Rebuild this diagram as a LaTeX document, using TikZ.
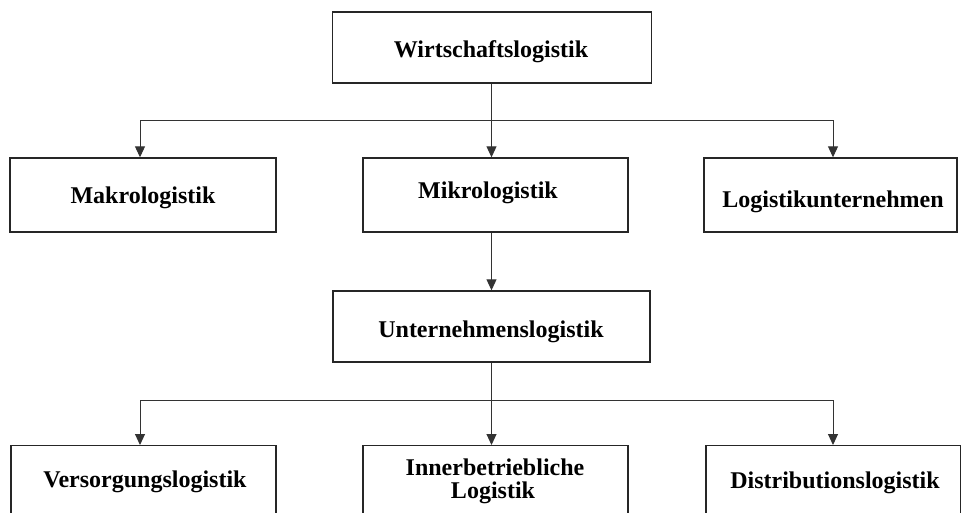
\documentclass[tikz,border=0pt]{standalone}
\usepackage{fontspec}
\setmainfont{Liberation Serif}
\usetikzlibrary{arrows.meta}
\begin{document}
\begin{tikzpicture}[x=1pt,y=-1pt,
  box/.style={draw=black!85,line width=1.4pt,fill=white,inner sep=0pt},
  lbl/.style={font=\bfseries\fontsize{24}{23}\selectfont,inner sep=0pt,anchor=base,align=center},
  conn/.style={draw=black!80,line width=1pt},
  arr/.style={conn,-{Triangle[length=11pt,width=10pt]}}]
\useasboundingbox (0,0) rectangle (961,512);
\clip (0,0) rectangle (961,512);
\fill[white] (0,0) rectangle (961,512);
% level 0
\node[box,minimum width=319pt,minimum height=71pt] (w) at (492,47.5) {};
\node[lbl] (wt) at (491,57) {Wirtschaftslogistik};
% level 1
\node[box,minimum width=266pt,minimum height=74pt] (ma) at (143,195) {};
\node[box,minimum width=265pt,minimum height=74pt] (mi) at (495.5,195) {};
\node[box,minimum width=253pt,minimum height=74pt] (lu) at (830.5,195) {};
\node[lbl] (mat) at (143,203) {Makrologistik};
\node[lbl] (mit) at (488,198) {Mikrologistik};
\node[lbl] (lut) at (833,207) {Logistikunternehmen};
% level 2
\node[box,minimum width=317pt,minimum height=71pt] (u) at (491.5,326.5) {};
\node[lbl] (ut) at (491,337) {Unternehmenslogistik};
% level 3
\node[box,minimum width=265pt,minimum height=120pt,anchor=north] (v) at (143.5,445) {};
\node[box,minimum width=265pt,minimum height=120pt,anchor=north] (ib) at (495.5,445) {};
\node[box,minimum width=255pt,minimum height=120pt,anchor=north] (d) at (833.5,445) {};
\node[lbl] (vt) at (145,487) {Versorgungslogistik};
\node[lbl] (ibt1) at (495,475) {Innerbetriebliche};
\node[lbl] (ibt2) at (493,498) {Logistik};
\node[lbl] (dt) at (835,488) {Distributionslogistik};
% connectors
\coordinate (j1) at (491.5,120);
\coordinate (j2) at (491.5,400);
\draw[conn] (w.south -| j1) -- (j1);
\draw[arr] (j1) -| (ma.north -| 140,0);
\draw[arr] (j1) -- (j1 |- mi.north);
\draw[arr] (j1) -| (lu.north -| 833,0);
\draw[arr] (mi.south -| j1) -- (u.north -| j1);
\draw[conn] (u.south -| j2) -- (j2);
\draw[arr] (j2) -| (v.north -| 140,0);
\draw[arr] (j2) -- (j2 |- ib.north);
\draw[arr] (j2) -| (d.north -| 833,0);
\end{tikzpicture}
\end{document}
